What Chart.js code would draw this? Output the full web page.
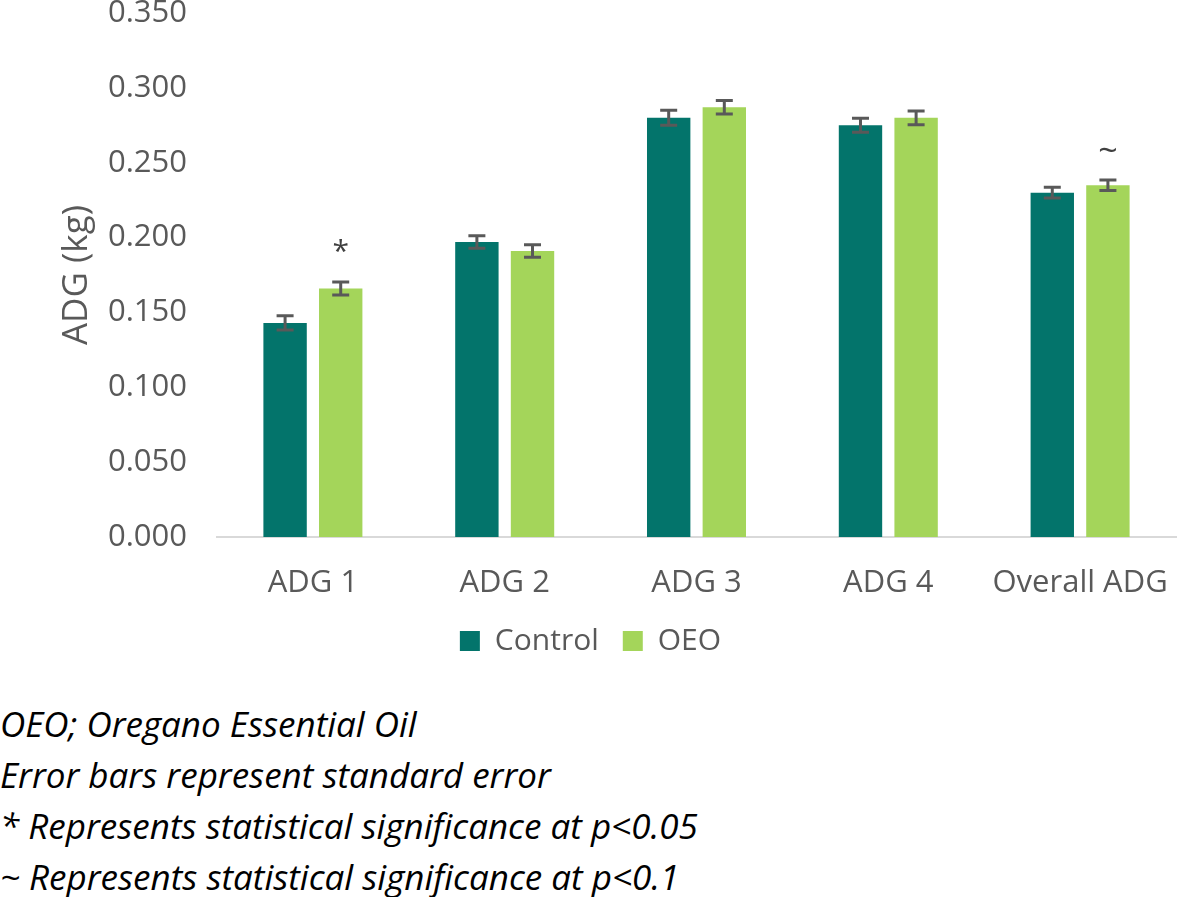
<!DOCTYPE html>
<html>
<head>
<meta charset="utf-8">
<script src="https://cdn.jsdelivr.net/npm/chart.js@4/dist/chart.umd.min.js"></script>
<style>
  body { margin: 0; background: #fff; width: 1181px; height: 897px; overflow: hidden; position: relative; font-family: "Open Sans", sans-serif; }
  #wrap { position: absolute; left: 0; top: 0; width: 1181px; height: 666px; }
  .note { position: absolute; left: 0; font-style: italic; font-size: 35px; color: #000; white-space: nowrap; line-height: 1; }
</style>
</head>
<body>
<div id="wrap"><canvas id="chart"></canvas></div>
<div class="note" style="top:706px">OEO; Oregano Essential Oil</div>
<div class="note" style="top:757px">Error bars represent standard error</div>
<div class="note" style="top:808px">* Represents statistical significance at p&lt;0.05</div>
<div class="note" style="top:859px">~ Represents statistical significance at p&lt;0.1</div>
<script>
const categories = ["ADG 1", "ADG 2", "ADG 3", "ADG 4", "Overall ADG"];
const controlValues = [0.143, 0.197, 0.280, 0.275, 0.230];
const oeoValues = [0.166, 0.191, 0.287, 0.280, 0.235];
const controlErrors = [0.0047, 0.0042, 0.005, 0.0047, 0.0036];
const oeoErrors = [0.0043, 0.0042, 0.0045, 0.0046, 0.0035];
const oeoMarks = ["*", "", "", "", "~"];

const textGray = "#595959";
const fontFamily = "'Open Sans', sans-serif";

// error bars + significance marks drawn on top of the bars
const errorBarPlugin = {
  id: "errorBars",
  afterDatasetsDraw(chart) {
    const ctx = chart.ctx;
    const yScale = chart.scales.y;
    const errs = [controlErrors, oeoErrors];
    ctx.save();
    ctx.strokeStyle = textGray;
    ctx.lineWidth = 3;
    chart.data.datasets.forEach((ds, i) => {
      const meta = chart.getDatasetMeta(i);
      meta.data.forEach((bar, j) => {
        const v = ds.data[j];
        const e = errs[i][j];
        const yTop = yScale.getPixelForValue(v + e);
        const yBot = yScale.getPixelForValue(v - e);
        const x = bar.x;
        const cap = 8.5;
        ctx.beginPath();
        ctx.moveTo(x, yTop); ctx.lineTo(x, yBot);
        ctx.moveTo(x - cap, yTop); ctx.lineTo(x + cap, yTop);
        ctx.moveTo(x - cap, yBot); ctx.lineTo(x + cap, yBot);
        ctx.stroke();
        if (i === 1 && oeoMarks[j]) {
          const isStar = oeoMarks[j] === "*";
          ctx.fillStyle = "#404040";
          ctx.font = (isStar ? "30px " : "34px ") + fontFamily;
          ctx.textAlign = "center";
          ctx.textBaseline = "middle";
          ctx.fillText(oeoMarks[j], x, yTop - (isStar ? 30 : 28));
        }
      });
    });
    ctx.restore();
  }
};

new Chart(document.getElementById("chart").getContext("2d"), {
  type: "bar",
  data: {
    labels: categories,
    datasets: [
      { label: "Control", data: controlValues, backgroundColor: "#03746B" },
      { label: "OEO", data: oeoValues, backgroundColor: "#A4D55A" },
    ],
  },
  options: {
    responsive: true,
    maintainAspectRatio: false,
    animation: false,
    layout: { padding: 0 },
    datasets: { bar: { categoryPercentage: 0.58, barPercentage: 0.78 } },
    scales: {
      x: {
        grid: { display: false, drawTicks: false },
        border: { display: true, color: "#d9d9d9", width: 2 },
        ticks: { color: textGray, font: { family: fontFamily, size: 31 }, padding: 28 },
        afterFit: (scale) => { scale.height = 65; scale.paddingRight = 5; scale.paddingLeft = 0; },
      },
      y: {
        min: 0,
        max: 0.35,
        ticks: {
          stepSize: 0.05,
          color: textGray,
          font: { family: fontFamily, size: 31 },
          padding: 30,
          callback: (v) => v.toFixed(3),
        },
        grid: { display: false, drawTicks: false },
        border: { display: false },
        title: { display: true, text: "ADG (kg)", color: textGray, font: { family: fontFamily, size: 35 }, padding: { top: 56, bottom: 0 } },
        afterFit: (scale) => { scale.width = 217; scale.paddingTop = 13; scale.paddingBottom = 0; },
      },
    },
    plugins: {
      legend: {
        position: "bottom",
        labels: { color: textGray, boxWidth: 20, boxHeight: 20, padding: 24, font: { family: fontFamily, size: 30 } },
      },
      tooltip: { enabled: false },
    },
  },
  plugins: [errorBarPlugin],
});
</script>
</body>
</html>
